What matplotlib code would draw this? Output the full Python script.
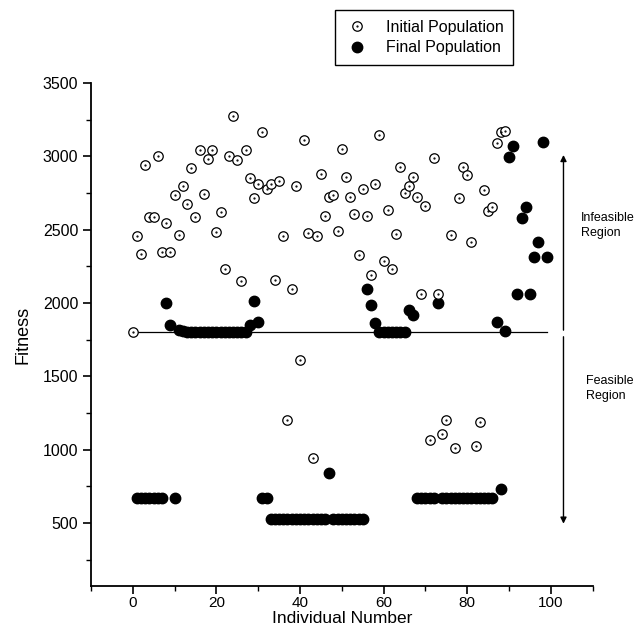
import matplotlib.pyplot as plt
from matplotlib.ticker import MultipleLocator
from matplotlib.lines import Line2D

plt.rcParams['font.family'] = ['Liberation Sans', 'DejaVu Sans']

# initial population, individuals 0..89
init_x = list(range(0, 90))
init_y = [1800, 2460, 2335, 2945, 2585, 2585, 3000, 2345, 2545, 2345,
          2740, 2465, 2800, 2675, 2920, 2585, 3045, 2745, 2985, 3045,
          2485, 2620, 2230, 3000, 3275, 2975, 2150, 3045, 2850, 2715,
          2815, 3170, 2775, 2810, 2155, 2835, 2460, 1200, 2095, 2800,
          1610, 3115, 2475, 940, 2455, 2880, 2595, 2720, 2735, 2490,
          3050, 2860, 2725, 2605, 2330, 2780, 2595, 2190, 2815, 3145,
          2285, 2635, 2230, 2470, 2925, 2750, 2800, 2860, 2725, 2065,
          2660, 1065, 2990, 2065, 1110, 1200, 2465, 1010, 2715, 2930,
          2875, 2415, 1025, 1190, 2770, 2625, 2655, 3095, 3165, 3175]

# final population, individuals 1..99
final_x = list(range(1, 100))
final_y = [670, 670, 670, 670, 670, 670, 670, 2000, 1852, 670,
           1815, 1807, 1802, 1800, 1800, 1800, 1800, 1800, 1800, 1800,
           1800, 1800, 1800, 1800, 1800, 1800, 1800, 1848, 2012, 1870,
           670, 670, 530, 530, 530, 530, 530, 530, 530, 530,
           530, 530, 530, 530, 530, 530, 840, 530, 530, 530,
           530, 530, 530, 530, 530, 2094, 1986, 1862, 1800, 1800,
           1800, 1800, 1800, 1800, 1800, 1952, 1918, 670, 670, 670,
           670, 670, 2002, 670, 670, 670, 670, 670, 670, 670,
           670, 670, 670, 670, 670, 670, 1874, 730, 1809, 2998,
           3070, 2061, 2577, 2657, 2061, 2316, 2418, 3100, 2316]

limit_x = [0, 99]
limit_y = [1800, 1800]

fig = plt.figure(figsize=(6.36, 6.27), dpi=100)
ax = fig.add_axes([0.143, 0.0654, 0.789, 0.802])

ax.plot(limit_x, limit_y, color='black', lw=0.9, zorder=1)
ax.plot(final_x, final_y, ls='none', marker='o', ms=7.5, color='black', zorder=2)
ax.plot(init_x, init_y, ls='none', marker='o', ms=6.8, mfc='white', mec='black', mew=0.9, zorder=3)
ax.plot(init_x, init_y, ls='none', marker='.', ms=1.2, color='black', zorder=4)

# region arrows
arrow_kw = dict(arrowstyle='-|>', color='black', lw=1.0, mutation_scale=9, shrinkA=0, shrinkB=0)
ax.annotate('', xy=(103, 3010), xytext=(103, 1815), arrowprops=arrow_kw)
ax.annotate('', xy=(103, 495), xytext=(103, 1770), arrowprops=arrow_kw)
ax.text(107.2, 2530, 'Infeasible\nRegion', fontsize=9, ha='left', va='center', linespacing=1.35)
ax.text(108.5, 1420, 'Feasible\nRegion', fontsize=9, ha='left', va='center', linespacing=1.35)

ax.set_xlim(-10, 110)
ax.set_ylim(70, 3500)
ax.xaxis.set_major_locator(MultipleLocator(20))
ax.xaxis.set_minor_locator(MultipleLocator(10))
ax.yaxis.set_major_locator(MultipleLocator(500))
ax.yaxis.set_minor_locator(MultipleLocator(250))
for s in ['top', 'right']:
    ax.spines[s].set_visible(False)
for s in ['left', 'bottom']:
    ax.spines[s].set_linewidth(1.3)
ax.tick_params(which='major', direction='out', length=6, width=1.2, labelsize=11.5, pad=3)
ax.tick_params(axis='x', which='major', labelsize=11, pad=1)
ax.tick_params(which='minor', direction='out', length=3.5, width=1.0)
ax.set_xlabel('Individual Number', fontsize=12.5)
ax.xaxis.set_label_coords(0.5, -0.05)
ax.set_ylabel('Fitness', fontsize=13, labelpad=8)

h_init = (Line2D([], [], ls='none', marker='o', ms=6.8, mfc='white', mec='black', mew=0.9),
          Line2D([], [], ls='none', marker='.', ms=1.2, color='black'))
h_final = Line2D([], [], ls='none', marker='o', ms=7.5, color='black')
leg = fig.legend([h_init, h_final], ['Initial Population', 'Final Population'],
                 loc='upper left', bbox_to_anchor=(0.5267, 0.984), fontsize=11.5,
                 handlelength=1.6, handletextpad=1.0, borderpad=0.6, labelspacing=0.35,
                 borderaxespad=0, fancybox=False, edgecolor='black', framealpha=1)
leg.get_frame().set_linewidth(1.0)

fig.savefig('out.png', dpi=100)
